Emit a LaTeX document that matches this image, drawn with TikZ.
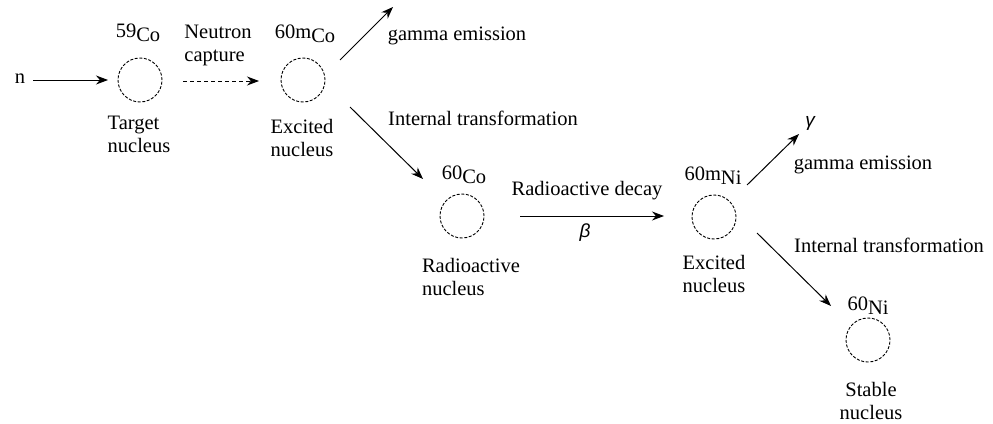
\documentclass[tikz,border=0pt]{standalone}
\usepackage{fontspec}
\setmainfont{Liberation Serif}
\newfontfamily\greekfont{Liberation Sans}
\usetikzlibrary{arrows.meta}
\begin{document}
\begin{tikzpicture}[x=1pt,y=-1pt,
  nuc/.style={circle,draw,dash pattern=on 3pt off 1.6pt,line width=0.9pt,minimum size=44pt,inner sep=0pt},
  lbl/.style={font=\fontsize{20.5}{23}\selectfont,inner sep=0pt,align=left},
  iso/.style={font=\fontsize{20.5}{23}\selectfont,inner sep=0pt},
  grk/.style={inner sep=0pt,font=\greekfont\itshape\fontsize{19}{22}\selectfont},
  arr/.style={line width=1pt,-{Stealth[length=12pt,width=9pt]}},
  dasharr/.style={arr,dash pattern=on 4pt off 3pt}]
\useasboundingbox (0,0) rectangle (993,423);
% nuclei
\node[nuc] (c1) at (140,80) {};
\node[nuc] (c2) at (303,80) {};
\node[nuc] (c3) at (462,216) {};
\node[nuc] (c4) at (714,217) {};
\node[nuc] (c5) at (868,340) {};
% isotope labels
\node[iso] (i1) at (138,33) {\raisebox{4pt}{59}Co};
\node[iso] (i2) at (305,34) {\raisebox{4pt}{60m}Co};
\node[iso] (i3) at (464,175) {\raisebox{4pt}{60}Co};
\node[iso] (i4) at (713,176) {\raisebox{4pt}{60m}Ni};
\node[iso] (i5) at (868,306) {\raisebox{4pt}{60}Ni};
% descriptions
\node[lbl] (d1) at (139,134) {Target\\nucleus};
\node[lbl] (d2) at (302,138) {Excited\\nucleus};
\node[lbl] (d3) at (471,277) {Radioactive\\nucleus};
\node[lbl] (d4) at (714,274) {Excited\\nucleus};
\node[lbl,align=center] (d5) at (871,401) {Stable\\nucleus};
\node[lbl] (nc) at (218,45) {Neutron\\capture};
\node[lbl] (g1) at (457,36) {gamma emission};
\node[lbl] (t1) at (483,118) {Internal transformation};
\node[lbl] (rd) at (587,191) {Radioactive decay};
\node[lbl] (g2) at (863,165) {gamma emission};
\node[lbl] (t2) at (889,245) {Internal transformation};
\node[grk] (be) at (585,233) {β};
\node[grk] (ga) at (810,123) {γ};
\node[lbl] (n) at (20,79) {n};
% free ends
\coordinate (a0) at (33,80);
\coordinate (a1) at (108,80);
\coordinate (b0) at (183,81);
\coordinate (b1) at (259,81);
\coordinate (g1s) at (340,60);
\coordinate (g1e) at (393,7);
\coordinate (t1s) at (350,107);
\coordinate (t1e) at (423,179);
\coordinate (r0) at (520,216);
\coordinate (r1) at (664,216);
\coordinate (g2s) at (747,185);
\coordinate (g2e) at (799,134);
\coordinate (t2s) at (757,233);
\coordinate (t2e) at (831,306);
% connectors
\draw[arr] (a0) -- (a1);
\draw[dasharr] (b0) -- (b1);
\draw[arr] (g1s) -- (g1e);
\draw[arr] (t1s) -- (t1e);
\draw[arr] (r0) -- (r1);
\draw[arr] (g2s) -- (g2e);
\draw[arr] (t2s) -- (t2e);
\end{tikzpicture}
\end{document}
